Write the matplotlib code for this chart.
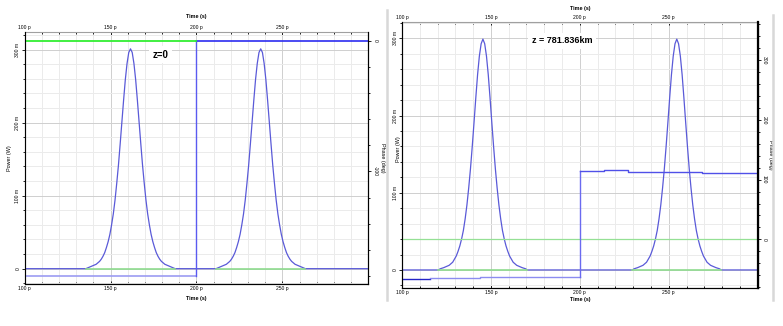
import numpy as np
import matplotlib
matplotlib.use("Agg")
import matplotlib.pyplot as plt
from matplotlib.ticker import MultipleLocator, FuncFormatter
from matplotlib.lines import Line2D

plt.rcParams["font.family"] = ["Liberation Sans", "DejaVu Sans"]

# pulse profiles (offset from pulse centre in ps, power in mW)
prof_off_l = [-26, -24, -22, -20, -19, -18, -17, -16, -15, -14, -13, -12, -11, -10, -9, -8,
              -7, -6, -5, -4, -3, -2, -1, 0, 1, 2, 3, 4, 5, 6, 7, 8, 9, 10, 11, 12, 13,
              14, 15, 16, 17, 18, 19, 20, 22, 24, 26]
prof_pow_l = [0, 2, 4, 6, 8, 10, 13, 17, 22, 29, 37, 47, 60, 75, 94, 117,
              142, 171, 201, 231, 259, 281, 296, 301, 296, 281, 259, 231, 201, 171, 142, 117, 94, 75, 60, 47, 37,
              29, 22, 17, 13, 10, 8, 6, 4, 2, 0]

prof_off_r = [-25, -24, -22, -20, -19, -18, -17, -16, -15, -14, -13, -12, -11, -10, -9, -8,
              -7, -6, -5, -4, -3, -2, -1, 0, 1, 2, 3, 4, 5, 6, 7, 8, 9, 10, 11, 12, 13,
              14, 15, 16, 17, 18, 19, 20, 22, 24, 25]
prof_pow_r = [0, 1.5, 3, 5, 6, 8, 10, 14, 18, 24, 31, 40, 51, 66, 84, 106,
              131, 160, 191, 223, 253, 277, 293, 299, 293, 277, 253, 223, 191, 160, 131, 106, 84, 66, 51, 40, 31,
              24, 18, 14, 10, 8, 6, 5, 3, 1.5, 0]

# pulse centres (ps)
centres_l = [161.6, 237.4]
centres_r = [145.5, 254.5]

# green power trace spans (ps)
green_l = [(135.6, 187.6), (211.4, 263.4)]
green_r = [(120.5, 170.5), (229.5, 279.5)]

# phase traces (deg)
ph_l_low_t, ph_l_low = [100, 200], [-180, -180]
ph_l_jump_t, ph_l_jump = [200, 200], [-180, 0]
ph_l_high_t, ph_l_high = [200, 300], [0, 0]
ph_l_green_t, ph_l_green = [100, 200], [0, 0]

ph_r_dark_t, ph_r_dark = [100, 115.7], [-67, -67]
ph_r_low_t = [115.7, 143.8, 143.8, 165.2, 165.2, 200]
ph_r_low = [-65.3, -65.3, -63.6, -63.6, -62.6, -62.6]
ph_r_jump_t, ph_r_jump = [200, 200], [-62.6, 114.9]
ph_r_high_t = [200, 213.5, 213.5, 227, 227, 268.5, 268.5, 300]
ph_r_high = [114.9, 114.9, 116, 116, 113.2, 113.2, 111.6, 111.6]
ph_r_green_t, ph_r_green = [100, 300], [0, 0]


def pulse_train(centres, off, pw):
    t = [100.0]
    p = [0.0]
    for c in centres:
        t += [c + o for o in off]
        p += pw
    t.append(300.0)
    p.append(0.0)
    return np.array(t), np.array(p)


fig = plt.figure(figsize=(7.83, 3.26), dpi=100)

fs_tick = 3.6
fs_lab = 3.9


def setup(ax, axp, pylim, phlim, top_lab, bot_lab):
    ax.set_xlim(100, 300)
    ax.set_ylim(*pylim)
    axp.set_ylim(*phlim)
    ax.xaxis.set_major_locator(MultipleLocator(50))
    ax.xaxis.set_minor_locator(MultipleLocator(10))
    ax.yaxis.set_major_locator(MultipleLocator(100))
    ax.yaxis.set_minor_locator(MultipleLocator(20))
    axp.yaxis.set_major_locator(MultipleLocator(100))
    axp.yaxis.set_minor_locator(MultipleLocator(20))
    ax.xaxis.set_major_formatter(FuncFormatter(lambda v, _: "%d p" % v if v < 300 else ""))
    ax.yaxis.set_major_formatter(FuncFormatter(lambda v, _: "0" if v == 0 else "%d m" % v))
    axp.yaxis.set_major_formatter(FuncFormatter(lambda v, _: "%d" % v))
    ax.set_axisbelow(True)
    ax.grid(which="major", color="#cfcfcf", lw=0.7)
    ax.grid(which="minor", color="#ebebeb", lw=0.7)
    ax.tick_params(axis="x", which="both", direction="in", top=True, labeltop=True,
                   labelsize=fs_tick, pad=1.5, length=2, width=0.6)
    ax.tick_params(axis="x", which="minor", length=1.5)
    ax.tick_params(axis="y", which="both", direction="out", labelsize=fs_tick,
                   labelrotation=90, pad=1, length=2, width=0.6)
    ax.tick_params(axis="y", which="minor", length=1.2)
    axp.tick_params(axis="y", which="both", direction="out", labelsize=fs_tick,
                    labelrotation=270, pad=1, length=2, width=0.6)
    axp.tick_params(axis="y", which="minor", length=1.2)
    for lab in ax.get_yticklabels() + axp.get_yticklabels():
        lab.set_va("center")
    ax.spines["top"].set_color("#a0a0a0")
    ax.spines["left"].set_color("#707070")
    axp.spines["top"].set_visible(False)
    ax.text(0.5, top_lab, "Time (s)", transform=ax.transAxes, ha="center", va="center",
            fontsize=fs_lab, fontweight="bold")
    ax.text(0.5, bot_lab, "Time (s)", transform=ax.transAxes, ha="center", va="center",
            fontsize=fs_lab, fontweight="bold")


# ---------------- left panel: z = 0
axl = fig.add_axes([0.0315, 0.1288, 0.4388, 0.7730])
axlp = axl.twinx()
setup(axl, axlp, (-21, 324), (-186, 6.5), 1.063, -0.056)
axl.text(-0.043, 0.5, "Power (W)", transform=axl.transAxes, rotation=90,
         ha="center", va="center", fontsize=fs_lab)
axlp.text(1.042, 0.5, "Phase (deg)", transform=axlp.transAxes, rotation=270,
          ha="center", va="center", fontsize=fs_lab)

t, p = pulse_train(centres_l, prof_off_l, prof_pow_l)
axl.plot(t, p, color="#5a5ad8", lw=0.9, zorder=3)
for a, b in green_l:
    axl.plot([a, b], [0, 0], color="#8fdc8f", lw=1.2, zorder=4)

axlp.plot(ph_l_low_t, ph_l_low, color="#9c9cf2", lw=1.2)
axlp.plot(ph_l_jump_t, ph_l_jump, color="#5a5af0", lw=1.0)
axlp.plot(ph_l_high_t, ph_l_high, color="#2c2cf0", lw=1.2)
axlp.plot(ph_l_green_t, ph_l_green, color="#33ee33", lw=1.3)

axl.text(174.5, 293, "z=0", fontsize=7, fontweight="bold", ha="left", va="center",
         zorder=6, bbox=dict(facecolor="white", edgecolor="none", pad=2.5))

# ---------------- right panel: z = 781.836 km
axr = fig.add_axes([0.5134, 0.1175, 0.4543, 0.8160])
axrp = axr.twinx()
setup(axr, axrp, (-23, 321.6), (-81, 364.5), 1.048, -0.046)
axr.spines["left"].set_color("#303030")
axrp.spines["right"].set_linewidth(1.6)
axr.text(-0.011, 0.52, "Power (W)", transform=axr.transAxes, rotation=90,
         ha="center", va="center", fontsize=fs_lab)
axrp.text(1.035, 0.5, "Phase (deg)", transform=axrp.transAxes, rotation=270,
          ha="center", va="center", fontsize=fs_lab)

t, p = pulse_train(centres_r, prof_off_r, prof_pow_r)
axr.plot(t, p, color="#5a5ad8", lw=0.9, zorder=3)
for a, b in green_r:
    axr.plot([a, b], [0, 0], color="#8fdc8f", lw=1.2, zorder=4)

axrp.plot(ph_r_green_t, ph_r_green, color="#95e095", lw=0.9)
axrp.plot(ph_r_dark_t, ph_r_dark, color="#2424c8", lw=1.0)
axrp.plot(ph_r_low_t, ph_r_low, color="#8c8cf0", lw=1.0)
axrp.plot(ph_r_jump_t, ph_r_jump, color="#6a6af0", lw=1.0)
axrp.plot(ph_r_high_t, ph_r_high, color="#5050e8", lw=1.0)

axr.text(172.9, 297, "z = 781.836km", fontsize=6.5, fontweight="bold", ha="left",
         va="center", zorder=6, bbox=dict(facecolor="white", edgecolor="none", pad=2.5))

# window frame edges from the screenshot
fig.add_artist(Line2D([387 / 783, 387 / 783], [1 - 10 / 326, 1 - 300 / 326],
                      color="#d8d8d8", lw=1.8))
fig.add_artist(Line2D([773 / 783, 773 / 783], [1 - 15 / 326, 1 - 300 / 326],
                      color="#d8d8d8", lw=1.8))

fig.savefig("out.png", dpi=100)
